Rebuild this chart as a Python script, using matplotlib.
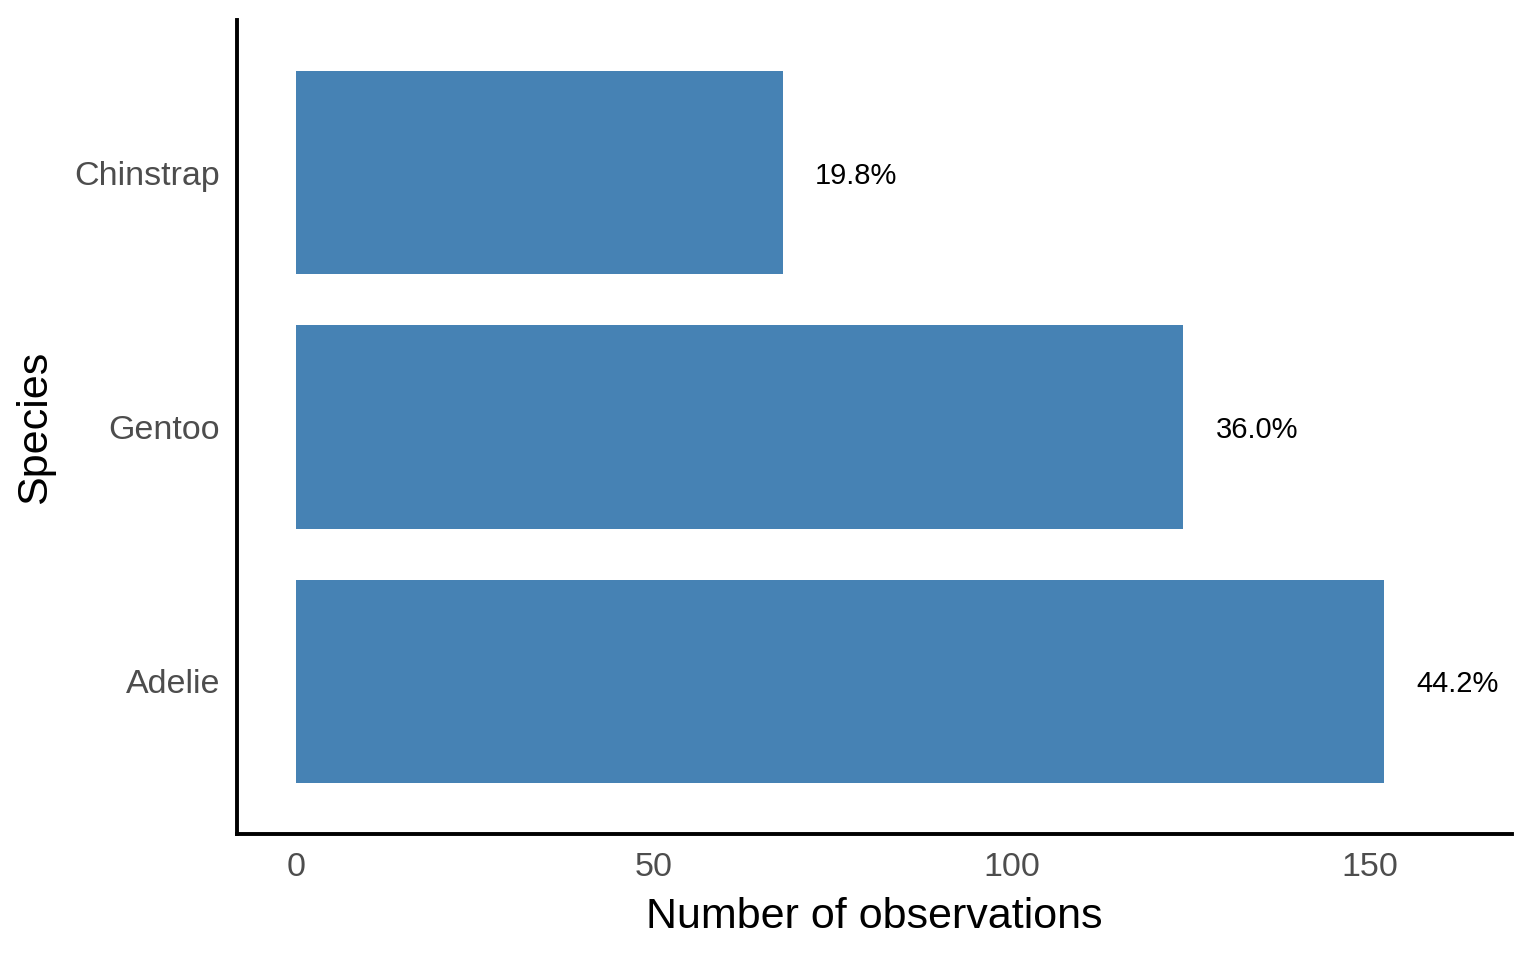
import matplotlib
matplotlib.use("Agg")
import matplotlib.pyplot as plt

species = ["Adelie", "Gentoo", "Chinstrap"]
counts = [152, 124, 68]
pct_labels = ["44.2%", "36.0%", "19.8%"]

plt.rcParams['font.family'] = ['Liberation Sans', 'DejaVu Sans']

fig = plt.figure(figsize=(15.36, 9.6), dpi=100)
ax = fig.add_axes([237/1536, 1 - 834/960, (1512-237)/1536, (834-20)/960])

ypos = list(range(1, len(species) + 1))
ax.barh(ypos, counts, height=0.8, color="#4682B4")
for y, c, lab in zip(ypos, counts, pct_labels):
    ax.text(c + 4.5, y, lab, ha="left", va="center_baseline", fontsize=21, color="black")

ax.set_xlim(-8.25, 169.9)
ax.set_ylim(0.4, 3.6)
ax.set_yticks(ypos)
ax.set_yticklabels(species)
ax.set_xticks([0, 50, 100, 150])
ax.tick_params(axis="both", length=0, labelsize=24.5, labelcolor="#4D4D4D")
ax.tick_params(axis="x", pad=13)
ax.tick_params(axis="y", pad=12)

for s in ["top", "right"]:
    ax.spines[s].set_visible(False)
for s in ["left", "bottom"]:
    ax.spines[s].set_linewidth(2.8)
    ax.spines[s].set_color("black")

ax.set_xlabel("Number of observations", fontsize=31, labelpad=10)
ax.set_ylabel("Species", fontsize=31, labelpad=14)

fig.savefig("out.png", dpi=100)
